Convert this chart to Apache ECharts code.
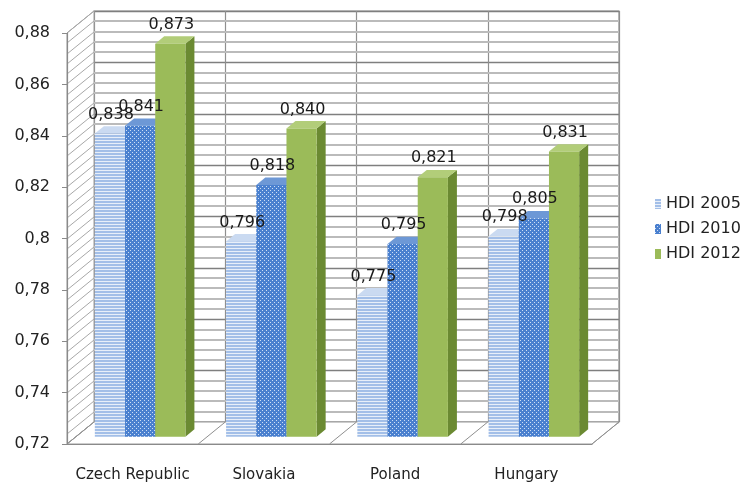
<!DOCTYPE html>
<html>
<head>
<meta charset="utf-8">
<script src="https://cdn.jsdelivr.net/npm/echarts@6/dist/echarts.min.js"></script>
<style>
html, body { margin: 0; padding: 0; background: #fff; }
#main { width: 752px; height: 489px; }
</style>
</head>
<body>
<div id="main"></div>
<script>
var categories = ['Czech Republic', 'Slovakia', 'Poland', 'Hungary'];
var seriesNames = ['HDI 2005', 'HDI 2010', 'HDI 2012'];
var hdi2005 = [0.838, 0.796, 0.775, 0.798];
var hdi2010 = [0.841, 0.818, 0.795, 0.805];
var hdi2012 = [0.873, 0.840, 0.821, 0.831];
var yMin = 0.72, yMax = 0.88, yStep = 0.02, yMinorStep = 0.004;

// depth of the fake 3D box in px (back wall is shifted this much)
var DX = 27, DY = -22;
var FONT = 'DejaVu Sans';
var front = { left: 67, right: 160, top: 33, bottom: 45 };

function makePattern(w, h, bg, draw) {
    var c = document.createElement('canvas');
    c.width = w; c.height = h;
    var g = c.getContext('2d');
    g.fillStyle = bg;
    g.fillRect(0, 0, w, h);
    draw(g);
    return { image: c, repeat: 'repeat' };
}

var stripes = makePattern(4, 3, '#a3bfe8', function (g) {
    g.fillStyle = '#e8eff9';
    g.fillRect(0, 2, 4, 1);
});
var dots = makePattern(4, 4, '#4a80cf', function (g) {
    g.fillStyle = '#cfdff5';
    g.fillRect(0, 0, 1, 1);
    g.fillRect(2, 2, 1, 1);
});

var looks = [
    { front: stripes, top: '#cadaf1', side: '#7d9fcf' },
    { front: dots, top: '#6d98d6', side: '#2f5f9f' },
    { front: '#9bbb59', top: '#b2cd79', side: '#6b8a32' }
];

function fmt(v, d) {
    return (d == null ? String(+v.toFixed(3)) : v.toFixed(d)).replace('.', ',');
}

// side wall, floor and back-wall rulings, drawn from the front grid
function renderWalls(params, api) {
    var cs = params.coordSys;
    var L = cs.x, R = cs.x + cs.width, T = cs.y, B = cs.y + cs.height;
    var kids = [];
    var line = function (x1, y1, x2, y2, color, w) {
        kids.push({ type: 'line', shape: { x1: x1, y1: y1, x2: x2, y2: y2 },
            style: { stroke: color, lineWidth: w || 1 } });
    };
    kids.push({ type: 'polygon', shape: { points: [[L, T], [L + DX, T + DY], [L + DX, B + DY], [L, B]] },
        style: { fill: '#fff', stroke: '#9a9a9a', lineWidth: 1 } });
    kids.push({ type: 'polygon', shape: { points: [[L, B], [R, B], [R + DX, B + DY], [L + DX, B + DY]] },
        style: { fill: '#fff', stroke: '#9a9a9a', lineWidth: 1 } });

    var n = Math.round((yMax - yMin) / yMinorStep);
    var per = Math.round(yStep / yMinorStep);
    for (var i = 0; i <= n; i++) {
        var y = Math.round(api.coord([0, yMin + i * yMinorStep])[1]);
        line(L, y, L + DX, y + DY, '#a8a8a8', 1);
        if (i % per !== 0) {
            kids.push({ type: 'rect', shape: { x: L + DX, y: y + DY - 1, width: R - L, height: 2 },
                style: { fill: '#bbbbbb' } });
        }
    }
    var bw = cs.width / categories.length;
    for (var c = 0; c <= categories.length; c++) {
        var x = L + c * bw;
        line(x, B, x + DX, B + DY, '#8f8f8f', 1);
    }
    return { type: 'group', children: kids };
}

function barRenderer(k) {
    var look = looks[k];
    return function (params, api) {
        var c = api.value(0), v = api.value(1);
        var bw = api.size([1, 0])[0];
        var w = bw * 0.23;
        var dx = DX / 3, dy = DY / 3;
        var top = api.coord([c, v]);
        var base = api.coord([c, yMin]);
        var x0 = top[0] + dx - 1.5 * w + k * w - 1.5;
        var ty = top[1] + dy, by = base[1] + dy;
        return {
            type: 'group',
            children: [
                { type: 'polygon', shape: { points: [[x0 + w, ty], [x0 + w + dx, ty + dy], [x0 + w + dx, by + dy], [x0 + w, by]] },
                    style: { fill: look.side } },
                { type: 'polygon', shape: { points: [[x0, ty], [x0 + w, ty], [x0 + w + dx, ty + dy], [x0 + dx, ty + dy]] },
                    style: { fill: look.top } },
                { type: 'rect', shape: { x: x0, y: ty, width: w, height: by - ty },
                    style: { fill: look.front } },
                { type: 'text', z2: 100,
                    style: { x: x0 + w / 2 + 1, y: ty - 19, text: fmt(v, 3), fill: '#1a1a1a',
                        font: '16px "' + FONT + '"', align: 'center', verticalAlign: 'middle' } }
            ]
        };
    };
}

var values = [hdi2005, hdi2010, hdi2012];
var series = [{
    type: 'custom',
    name: 'walls',
    z: 1,
    silent: true,
    renderItem: renderWalls,
    data: [[0, yMin]]
}];
seriesNames.forEach(function (name, k) {
    series.push({
        type: 'custom',
        name: name,
        z: 2,
        itemStyle: { color: looks[k].front },
        renderItem: barRenderer(k),
        encode: { x: 0, y: 1 },
        data: values[k].map(function (v, i) { return [i, v]; })
    });
});

var chart = echarts.init(document.getElementById('main'));
chart.setOption({
    animation: false,
    textStyle: { fontFamily: FONT },
    grid: [
        front,
        // back wall: same axes pushed back by the depth offset
        {
            left: front.left + DX, right: front.right - DX,
            top: front.top + DY, bottom: front.bottom - DY,
            show: true, backgroundColor: '#fff', borderColor: '#8c8c8c', borderWidth: 1.2, z: 0
        }
    ],
    legend: {
        orient: 'vertical',
        left: 650,
        top: 191,
        itemWidth: 6,
        itemHeight: 10,
        itemGap: 9,
        itemTextGap: 5,
        textStyle: { fontSize: 16, color: '#222', fontFamily: FONT },
        data: seriesNames.map(function (n, k) {
            return { name: n, icon: 'rect', itemStyle: { color: looks[k].front } };
        })
    },
    xAxis: [{
        type: 'category',
        data: categories,
        axisLine: { lineStyle: { color: '#8a8a8a', width: 1.2 } },
        axisTick: { length: 7, lineStyle: { color: '#8a8a8a' } },
        axisLabel: { interval: 0, fontSize: 15, color: '#222', margin: 24, fontFamily: FONT },
        z: 3
    }, {
        type: 'category',
        gridIndex: 1,
        data: categories,
        axisLine: { show: false },
        axisTick: { show: false },
        axisLabel: { show: false },
        splitLine: { show: true, interval: 0, lineStyle: { color: '#8f8f8f', width: 1.2 } }
    }],
    yAxis: [{
        type: 'value',
        min: yMin,
        max: yMax,
        interval: yStep,
        splitLine: { show: false },
        axisLine: { show: true, lineStyle: { color: '#8a8a8a', width: 1.2 } },
        axisTick: { show: true, length: 5, lineStyle: { color: '#8a8a8a' } },
        axisLabel: {
            fontSize: 16, color: '#222', margin: 17, padding: [10, 0, 0, 0], fontFamily: FONT,
            formatter: function (v) { return fmt(v); }
        },
        z: 3
    }, {
        type: 'value',
        gridIndex: 1,
        min: yMin,
        max: yMax,
        interval: yStep,
        axisLine: { show: false },
        axisTick: { show: false },
        axisLabel: { show: false },
        splitLine: { show: true, lineStyle: { color: '#7f7f7f', width: 1.3 } }
    }],
    series: series
});
</script>
</body>
</html>
